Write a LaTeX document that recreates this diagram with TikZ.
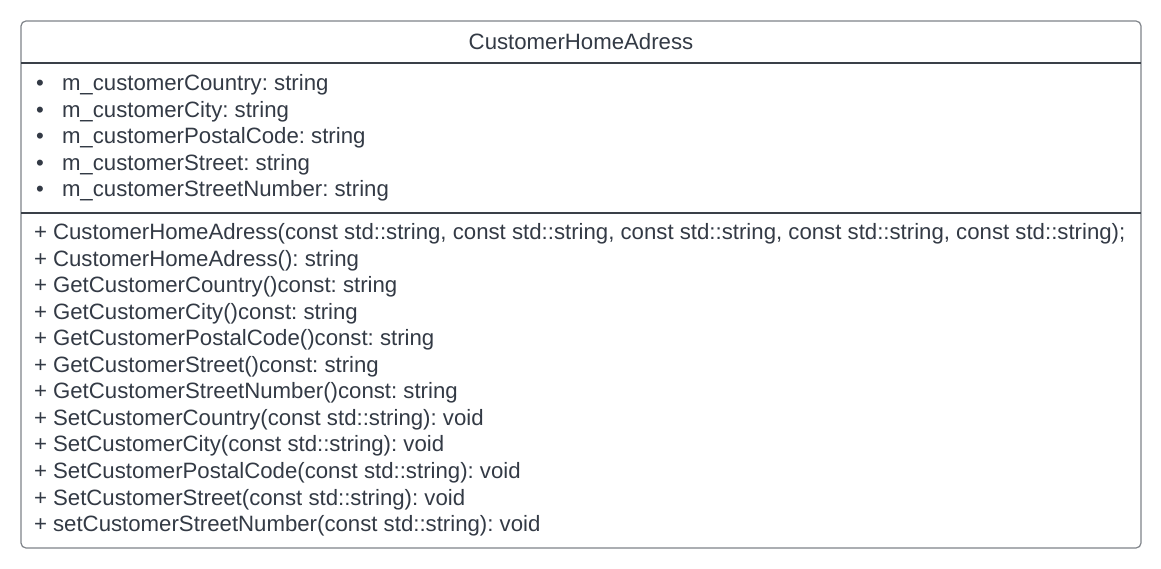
\documentclass[tikz,border=0pt]{standalone}
\usepackage{fontspec}
\setmainfont{Liberation Sans}
\definecolor{txt}{HTML}{333A45}
\definecolor{frame}{HTML}{7F8389}
\definecolor{divider}{HTML}{3A4048}
\begin{document}
\frenchspacing
\begin{tikzpicture}[x=1pt,y=1pt,
  every node/.style={inner sep=0pt, outer sep=0pt, text=txt, font=\fontsize{22.2}{26.5}\selectfont},
  row/.style={anchor=base west},
  titletext/.style={anchor=base}]
\useasboundingbox[fill=white] (0,0) rectangle (1161,-569);
\coordinate (tl) at (21,-21);
\coordinate (br) at (1141,-548);
\draw[frame, line width=1.2pt, rounded corners=5pt] (tl) rectangle (br);
\coordinate (h1l) at (21,-63);  \coordinate (h1r) at (1141,-63);
\coordinate (h2l) at (21,-213); \coordinate (h2r) at (1141,-213);
\draw[divider, line width=1.1pt] (h1l) -- (h1r);
\draw[divider, line width=1.1pt] (h2l) -- (h2r);
\node[titletext] (title) at (581,-49.5) {CustomerHomeAdress};
\foreach \t [count=\i] in {m\_customerCountry: string, m\_customerCity: string, m\_customerPostalCode: string, m\_customerStreet: string, m\_customerStreetNumber: string}{
  \node[row] (b\i) at (36,{-91-26.5*(\i-1)}) {•};
  \node[row] (a\i) at (62,{-91-26.5*(\i-1)}) {\t};
}
\foreach \t [count=\i] in {%
  {+ CustomerHomeAdress(const std::string, const std::string, const std::string, const std::string, const std::string);},
  {+ CustomerHomeAdress(): string},
  {+ GetCustomerCountry()const: string},
  {+ GetCustomerCity()const: string},
  {+ GetCustomerPostalCode()const: string},
  {+ GetCustomerStreet()const: string},
  {+ GetCustomerStreetNumber()const: string},
  {+ SetCustomerCountry(const std::string): void},
  {+ SetCustomerCity(const std::string): void},
  {+ SetCustomerPostalCode(const std::string): void},
  {+ SetCustomerStreet(const std::string): void},
  {+ setCustomerStreetNumber(const std::string): void}}{
  \node[row] (m\i) at (34,{-239.5-26.55*(\i-1)}) {\t};
}
\end{tikzpicture}
\end{document}
